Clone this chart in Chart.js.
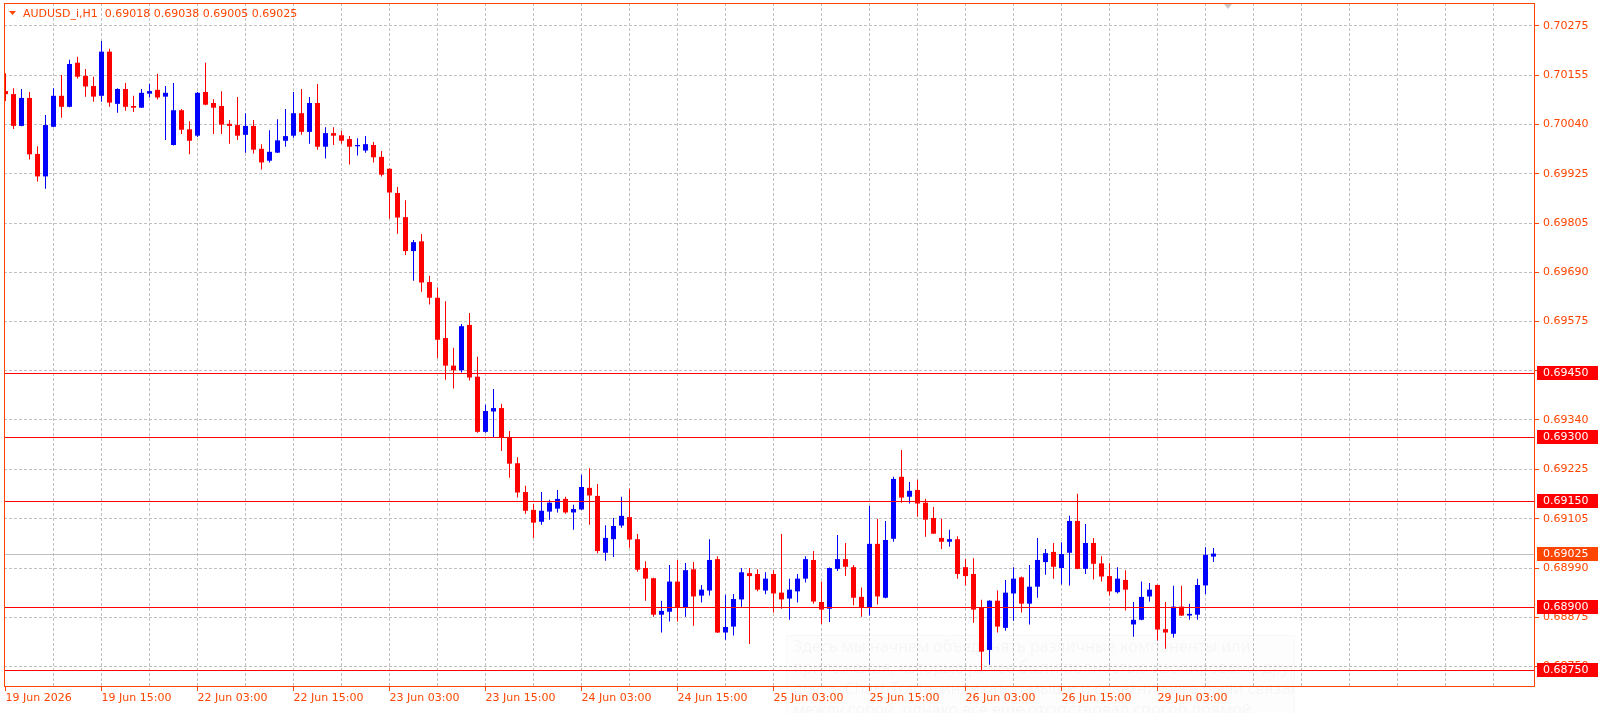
<!DOCTYPE html>
<html>
<head>
<meta charset="utf-8">
<title>AUDUSD_i,H1</title>
<script src="https://cdn.jsdelivr.net/npm/chart.js@4.4.1/dist/chart.umd.min.js"></script>
<style>
  html, body { margin: 0; padding: 0; background: #fff; overflow: hidden; }
  #wrap { position: relative; width: 1601px; height: 713px; }
  #note {
    position: absolute; left: 786px; top: 635px; width: 509px; height: 78px;
    border: 1px solid rgba(0, 0, 0, 0.025); border-bottom: none;
    background: rgba(0, 0, 0, 0.006);
    font: 16px "Noto Sans", sans-serif; line-height: 21px;
    color: rgba(0, 0, 0, 0.035); padding: 0 0 0 6px; box-sizing: border-box;
    white-space: nowrap; overflow: hidden; pointer-events: none;
  }
</style>
</head>
<body>
<div id="wrap">
  <canvas id="chart" width="1601" height="713"></canvas>
  <div id="note">
    <div>Здесь мы начнем объединять различные компоненты или</div>
    <div>приложения, которые ранее были полностью изолированы друг от</div>
    <div>друга. Chart Trade, индикатор мыши и советник уже были связаны</div>
    <div>между собой, однако все еще отсутствовал способ прямой</div>
  </div>
</div>
<script>
const symbol = 'AUDUSD_i,H1';

// H1 candles, 19 Jun 03:00 .. 29 Jun 10:00
const opens = [
  0.70115, 0.70108, 0.70033, 0.70099, 0.69967, 0.69914, 0.70031, 0.70104, 0.70078, 0.70182,
  0.70151, 0.70127, 0.70104, 0.70208, 0.70085, 0.70120, 0.70080, 0.70076, 0.70109, 0.70118,
  0.70102, 0.69988, 0.70070, 0.70025, 0.70010, 0.70113, 0.70087, 0.70080, 0.70038, 0.70035,
  0.70012, 0.70033, 0.69979, 0.69951, 0.69970, 0.69998, 0.70010, 0.70063, 0.70019, 0.70087,
  0.69984, 0.70016, 0.70011, 0.70002, 0.69985, 0.69975, 0.69988, 0.69960, 0.69932, 0.69875,
  0.69818, 0.69738, 0.69761, 0.69665, 0.69628, 0.69533, 0.69468, 0.69457, 0.69564, 0.69442,
  0.69312, 0.69360, 0.69368, 0.69300, 0.69238, 0.69170, 0.69128, 0.69100, 0.69124, 0.69131,
  0.69154, 0.69122, 0.69129, 0.69180, 0.69161, 0.69027, 0.69059, 0.69091, 0.69111, 0.69059,
  0.68991, 0.68967, 0.68881, 0.68888, 0.68959, 0.68898, 0.68988, 0.68926, 0.68938, 0.69012,
  0.68839, 0.68853, 0.68917, 0.68979, 0.68977, 0.68938, 0.68977, 0.68933, 0.68919, 0.68936,
  0.68966, 0.69010, 0.68911, 0.68895, 0.68989, 0.69012, 0.68993, 0.68923, 0.68898, 0.69048,
  0.68921, 0.69060, 0.69206, 0.69159, 0.69175, 0.69145, 0.69109, 0.69062, 0.69053, 0.69059,
  0.68993, 0.68977, 0.68897, 0.68798, 0.68914, 0.68850, 0.68931, 0.68969, 0.68907, 0.68947,
  0.69005, 0.69029, 0.68991, 0.69027, 0.69102, 0.68989, 0.69050, 0.69002, 0.68972, 0.68934,
  0.68963, 0.68858, 0.68869, 0.68924, 0.68951, 0.68847, 0.68836, 0.68900, 0.68879, 0.68881,
  0.68950, 0.69018
];
const highs = [
  0.70157, 0.70122, 0.70120, 0.70113, 0.69985, 0.70059, 0.70122, 0.70153, 0.70189, 0.70196,
  0.70167, 0.70149, 0.70233, 0.70215, 0.70122, 0.70134, 0.70104, 0.70120, 0.70132, 0.70156,
  0.70127, 0.70134, 0.70073, 0.70044, 0.70113, 0.70182, 0.70096, 0.70115, 0.70047, 0.70101,
  0.70063, 0.70047, 0.69990, 0.70023, 0.70049, 0.70073, 0.70113, 0.70120, 0.70101, 0.70132,
  0.70030, 0.70030, 0.70021, 0.70009, 0.70004, 0.70009, 0.69995, 0.69974, 0.69933, 0.69889,
  0.69858, 0.69764, 0.69778, 0.69680, 0.69652, 0.69620, 0.69510, 0.69566, 0.69592, 0.69489,
  0.69376, 0.69413, 0.69378, 0.69314, 0.69252, 0.69185, 0.69142, 0.69170, 0.69152, 0.69175,
  0.69159, 0.69140, 0.69211, 0.69226, 0.69189, 0.69092, 0.69109, 0.69159, 0.69178, 0.69071,
  0.69007, 0.68968, 0.68914, 0.68998, 0.69010, 0.69003, 0.69005, 0.68951, 0.69059, 0.69019,
  0.68928, 0.68930, 0.68991, 0.68991, 0.68988, 0.68981, 0.68986, 0.69071, 0.68966, 0.68977,
  0.69019, 0.69031, 0.68959, 0.68992, 0.69069, 0.69050, 0.68998, 0.68945, 0.69137, 0.69107,
  0.69102, 0.69206, 0.69269, 0.69194, 0.69199, 0.69154, 0.69135, 0.69107, 0.69081, 0.69066,
  0.69012, 0.69014, 0.68916, 0.68915, 0.68938, 0.68963, 0.68993, 0.68971, 0.68998, 0.69062,
  0.69036, 0.69050, 0.69052, 0.69114, 0.69166, 0.69095, 0.69062, 0.69019, 0.69002, 0.68993,
  0.68986, 0.68911, 0.68959, 0.68956, 0.68952, 0.68911, 0.68949, 0.68949, 0.68907, 0.68966,
  0.69040, 0.69038
];
const lows = [
  0.70092, 0.70026, 0.70032, 0.69954, 0.69902, 0.69885, 0.70030, 0.70052, 0.70077, 0.70145,
  0.70102, 0.70090, 0.70090, 0.70078, 0.70064, 0.70069, 0.70066, 0.70075, 0.70100, 0.70095,
  0.70000, 0.69987, 0.70014, 0.69966, 0.70007, 0.70082, 0.70014, 0.70014, 0.69991, 0.70000,
  0.69970, 0.69968, 0.69930, 0.69947, 0.69969, 0.69984, 0.70005, 0.70012, 0.69991, 0.69977,
  0.69956, 0.69988, 0.69991, 0.69942, 0.69963, 0.69970, 0.69947, 0.69914, 0.69814, 0.69779,
  0.69729, 0.69668, 0.69642, 0.69612, 0.69486, 0.69435, 0.69414, 0.69452, 0.69433, 0.69310,
  0.69310, 0.69298, 0.69267, 0.69204, 0.69157, 0.69119, 0.69062, 0.69093, 0.69105, 0.69122,
  0.69119, 0.69081, 0.69128, 0.69093, 0.69026, 0.69008, 0.69017, 0.69086, 0.69039, 0.68982,
  0.68914, 0.68876, 0.68839, 0.68865, 0.68865, 0.68876, 0.68855, 0.68910, 0.68926, 0.68838,
  0.68822, 0.68832, 0.68900, 0.68812, 0.68936, 0.68929, 0.68886, 0.68895, 0.68869, 0.68910,
  0.68957, 0.68907, 0.68859, 0.68864, 0.68984, 0.68972, 0.68903, 0.68876, 0.68879, 0.68905,
  0.68920, 0.69053, 0.69145, 0.69143, 0.69112, 0.69065, 0.69071, 0.69036, 0.69041, 0.68966,
  0.68950, 0.68862, 0.68750, 0.68763, 0.68839, 0.68843, 0.68867, 0.68886, 0.68858, 0.68921,
  0.68975, 0.68966, 0.68952, 0.68950, 0.68988, 0.68977, 0.68964, 0.68959, 0.68926, 0.68931,
  0.68891, 0.68829, 0.68868, 0.68912, 0.68820, 0.68801, 0.68827, 0.68878, 0.68869, 0.68869,
  0.68929, 0.69005
];
const closes = [
  0.70108, 0.70033, 0.70099, 0.69966, 0.69914, 0.70035, 0.70104, 0.70078, 0.70179, 0.70149,
  0.70126, 0.70102, 0.70208, 0.70088, 0.70120, 0.70078, 0.70076, 0.70111, 0.70115, 0.70100,
  0.70111, 0.70070, 0.70024, 0.69998, 0.70111, 0.70083, 0.70076, 0.70036, 0.70033, 0.70010,
  0.70033, 0.69977, 0.69947, 0.69972, 0.69999, 0.70009, 0.70063, 0.70019, 0.70087, 0.69984,
  0.70016, 0.70010, 0.69998, 0.69984, 0.69988, 0.69990, 0.69959, 0.69918, 0.69876, 0.69817,
  0.69738, 0.69759, 0.69664, 0.69628, 0.69529, 0.69468, 0.69457, 0.69561, 0.69440, 0.69312,
  0.69361, 0.69368, 0.69298, 0.69237, 0.69169, 0.69126, 0.69098, 0.69126, 0.69145, 0.69154,
  0.69122, 0.69130, 0.69182, 0.69162, 0.69031, 0.69062, 0.69090, 0.69114, 0.69058, 0.68987,
  0.68966, 0.68881, 0.68890, 0.68959, 0.68898, 0.68986, 0.68924, 0.68940, 0.69010, 0.68839,
  0.68852, 0.68918, 0.68981, 0.68972, 0.68940, 0.68966, 0.68931, 0.68917, 0.68940, 0.68966,
  0.69012, 0.68912, 0.68893, 0.68991, 0.69012, 0.68994, 0.68921, 0.68898, 0.69048, 0.68924,
  0.69057, 0.69201, 0.69157, 0.69173, 0.69143, 0.69105, 0.69072, 0.69053, 0.69059, 0.68977,
  0.68972, 0.68893, 0.68794, 0.68914, 0.68853, 0.68933, 0.68966, 0.68907, 0.68947, 0.69010,
  0.69026, 0.68994, 0.69024, 0.69102, 0.68989, 0.69050, 0.69001, 0.68971, 0.68936, 0.68966,
  0.68940, 0.68869, 0.68923, 0.68940, 0.68846, 0.68839, 0.68900, 0.68879, 0.68883, 0.68951,
  0.69022, 0.69025
];

// one label every 12 bars, starting at bar 0
const timeLabels = [
  '19 Jun 2026', '19 Jun 15:00', '22 Jun 03:00', '22 Jun 15:00', '23 Jun 03:00',
  '23 Jun 15:00', '24 Jun 03:00', '24 Jun 15:00', '25 Jun 03:00', '25 Jun 15:00',
  '26 Jun 03:00', '26 Jun 15:00', '29 Jun 03:00'
];
// price grid lines and the (rounded) text the terminal prints for them
const gridPrices = [
  0.70269, 0.70153, 0.70037, 0.69920, 0.69804, 0.69688, 0.69572,
  0.69456, 0.69340, 0.69224, 0.69107, 0.68991, 0.68875, 0.68759
];
const priceLabels = [
  '0.70275', '0.70155', '0.70040', '0.69925', '0.69805', '0.69690', '0.69575',
  '0.69450', '0.69340', '0.69225', '0.69105', '0.68990', '0.68875', '0.68750'
];
const levelPrices = [0.69450, 0.69300, 0.69150, 0.68900, 0.68750];
const bidPrice = 0.69025;

document.addEventListener('DOMContentLoaded', function() {
    const textColor = '#ff4500';
    const bullColor = '#0000ff';
    const bearColor = '#ff0000';
    const font = '11px "DejaVu Sans"';

    const colors = opens.map((o, i) => closes[i] >= o ? bullColor : bearColor);
    const wickData = opens.map((o, i) => ({ x: i, y: [lows[i], highs[i]] }));
    const bodyData = opens.map((o, i) => ({ x: i, y: [Math.min(o, closes[i]), Math.max(o, closes[i])] }));

    const hasLabel = (v) => v % 12 === 0 && v / 12 < timeLabels.length;

    const overlay = {
        id: 'overlay',
        beforeDatasetsDraw(chart) {
            const { ctx, chartArea: a, scales: { y } } = chart;
            const py = Math.round(y.getPixelForValue(bidPrice)) + 0.5;
            ctx.save();
            ctx.strokeStyle = '#c0c0c0';
            ctx.lineWidth = 1;
            ctx.beginPath();
            ctx.moveTo(a.left, py);
            ctx.lineTo(a.right, py);
            ctx.stroke();
            ctx.restore();
        },
        afterDatasetsDraw(chart) {
            const { ctx, chartArea: a, scales: { y } } = chart;
            ctx.save();
            ctx.lineWidth = 1;
            ctx.strokeStyle = bearColor;
            levelPrices.forEach((p) => {
                const py = Math.round(y.getPixelForValue(p)) + 0.5;
                ctx.beginPath();
                ctx.moveTo(a.left, py);
                ctx.lineTo(a.right, py);
                ctx.stroke();
            });

            // price boxes on the axis
            ctx.font = font;
            ctx.textBaseline = 'middle';
            const box = (p, fill) => {
                const py = Math.round(y.getPixelForValue(p));
                ctx.fillStyle = fill;
                ctx.fillRect(a.right + 2, py - 7, 61, 14);
                ctx.fillStyle = '#ffffff';
                ctx.fillText(p.toFixed(5), a.right + 8, py + 0.5);
            };
            levelPrices.forEach((p) => box(p, bearColor));
            box(bidPrice, textColor);

            // frame
            ctx.strokeStyle = textColor;
            ctx.strokeRect(a.left + 0.5, a.top + 0.5, a.right - a.left - 1, a.bottom - a.top - 1);

            // header
            ctx.fillStyle = textColor;
            ctx.beginPath();
            ctx.moveTo(9, 11);
            ctx.lineTo(16, 11);
            ctx.lineTo(12.5, 15);
            ctx.closePath();
            ctx.fill();
            const n = opens.length - 1;
            const head = symbol + '  ' + [opens[n], highs[n], lows[n], closes[n]].map((v) => v.toFixed(5)).join(' ');
            ctx.textAlign = 'left';
            ctx.fillText(head, 23, 14);

            // chart shift marker
            ctx.fillStyle = '#c8c8c8';
            ctx.beginPath();
            ctx.moveTo(1224, 4);
            ctx.lineTo(1232, 4);
            ctx.lineTo(1228, 9);
            ctx.closePath();
            ctx.fill();
            ctx.restore();
        }
    };

    new Chart(document.getElementById('chart'), {
        type: 'bar',
        data: {
            datasets: [
                {
                    label: 'body',
                    data: bodyData,
                    backgroundColor: colors,
                    barThickness: 5,
                    minBarLength: 1,
                    grouped: false,
                    inflateAmount: 0,
                    borderWidth: 0,
                    order: 0
                },
                {
                    label: 'wick',
                    data: wickData,
                    backgroundColor: colors,
                    barThickness: 1,
                    minBarLength: 1,
                    grouped: false,
                    inflateAmount: 0,
                    borderWidth: 0,
                    order: 1
                }
            ]
        },
        options: {
            responsive: false,
            animation: false,
            events: [],
            layout: { padding: { left: 4, top: 3, right: 0, bottom: 0 } },
            plugins: { legend: { display: false }, tooltip: { enabled: false } },
            scales: {
                x: {
                    type: 'linear',
                    offset: false,
                    min: -0.1875,
                    max: 191.1875,
                    afterFit: (scale) => {
                        scale.height = 26;
                        scale.paddingLeft = 0;
                        scale.paddingRight = 0;
                    },
                    afterBuildTicks: (scale) => {
                        const t = [];
                        for (let v = 0; v <= 186; v += 6) t.push({ value: v });
                        scale.ticks = t;
                    },
                    border: { display: false, dash: [3, 2] },
                    grid: {
                        offset: false,
                        color: (c) => (c.tick && c.tick.value === 0) ? 'transparent' : '#c0c0c0',
                        tickColor: (c) => (c.tick && hasLabel(c.tick.value)) ? textColor : 'transparent',
                        tickLength: 4
                    },
                    ticks: {
                        autoSkip: false,
                        maxRotation: 0,
                        align: 'start',
                        padding: 1,
                        color: textColor,
                        font: { family: 'DejaVu Sans', size: 11 },
                        callback: (v) => hasLabel(v) ? timeLabels[v / 12] : ''
                    }
                },
                y: {
                    type: 'linear',
                    position: 'right',
                    min: 0.687106,
                    max: 0.703227,
                    afterFit: (scale) => {
                        scale.width = 66;
                        scale.paddingTop = 0;
                        scale.paddingBottom = 0;
                    },
                    afterBuildTicks: (scale) => {
                        scale.ticks = gridPrices.map((v) => ({ value: v }));
                    },
                    border: { display: false, dash: [3, 2] },
                    grid: {
                        color: '#c0c0c0',
                        tickColor: textColor,
                        tickLength: 4
                    },
                    ticks: {
                        padding: 4,
                        color: textColor,
                        font: { family: 'DejaVu Sans', size: 11 },
                        callback: (v, i) => priceLabels[i]
                    }
                }
            }
        },
        plugins: [overlay]
    });
});
</script>
</body>
</html>
